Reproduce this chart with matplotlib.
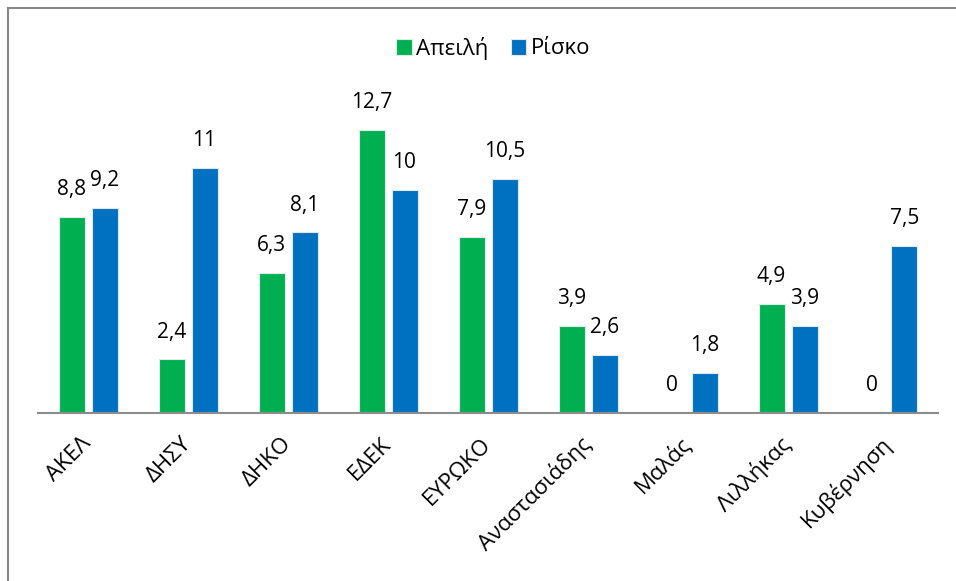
import numpy as np
import matplotlib.pyplot as plt
from matplotlib.lines import Line2D

# Δεδομένα
kathgories = ["ΑΚΕΛ", "ΔΗΣΥ", "ΔΗΚΟ", "ΕΔΕΚ", "ΕΥΡΩΚΟ", "Αναστασιάδης", "Μαλάς", "Λιλλήκας", "Κυβέρνηση"]
apeili = [8.8, 2.4, 6.3, 12.7, 7.9, 3.9, 0, 4.9, 0]
risko = [9.2, 11, 8.1, 10, 10.5, 2.6, 1.8, 3.9, 7.5]

plt.rcParams['font.family'] = ['Open Sans', 'DejaVu Sans']

fig = plt.figure(figsize=(9.56, 5.81), dpi=100)
ax = fig.add_axes([38/956, 1 - 413/581, 900/956, 334.5/581])

x = np.arange(len(kathgories))
w = 0.26
b1 = ax.bar(x - 0.165, apeili, w, color='#00B050', edgecolor='#dde8f0', linewidth=0.8, label='Απειλή')
b2 = ax.bar(x + 0.165, risko, w, color='#0070C0', edgecolor='#dde8f0', linewidth=0.8, label='Ρίσκο')

def fmt(v):
    s = ('%g' % v).replace('.', ',')
    return s

for bars, vals in [(b1, apeili), (b2, risko)]:
    for r, v in zip(bars, vals):
        ax.annotate(fmt(v), (r.get_x() + r.get_width()/2, v), xytext=(0, 12),
                    textcoords='offset points', ha='center', va='bottom', fontsize=15)

ax.set_xlim(-0.5, len(kathgories) - 0.5)
ax.set_ylim(0, 15)
ax.set_yticks([])
for s in ['top', 'right', 'left']:
    ax.spines[s].set_visible(False)
ax.spines['bottom'].set_color('#8c8c8c')
ax.spines['bottom'].set_linewidth(1.5)
ax.set_xticks(x)
ax.set_xticklabels(kathgories, rotation=45, ha='right', va='center', rotation_mode='anchor', fontsize=16)
ax.tick_params(axis='x', length=0, pad=20)

fig.legend(loc='center', bbox_to_anchor=(493/956, 1 - 48/581), ncol=2, frameon=False,
           fontsize=16, handlelength=0.7, handleheight=0.7, handletextpad=0.2, columnspacing=1.0)

# περίγραμμα
fig.add_artist(Line2D([8/956, 1], [1 - 8/581, 1 - 8/581], color='#878787', lw=1.5, transform=fig.transFigure))
fig.add_artist(Line2D([8/956, 8/956], [0, 1 - 8/581], color='#878787', lw=1.5, transform=fig.transFigure))

plt.savefig('out.png', dpi=100)
